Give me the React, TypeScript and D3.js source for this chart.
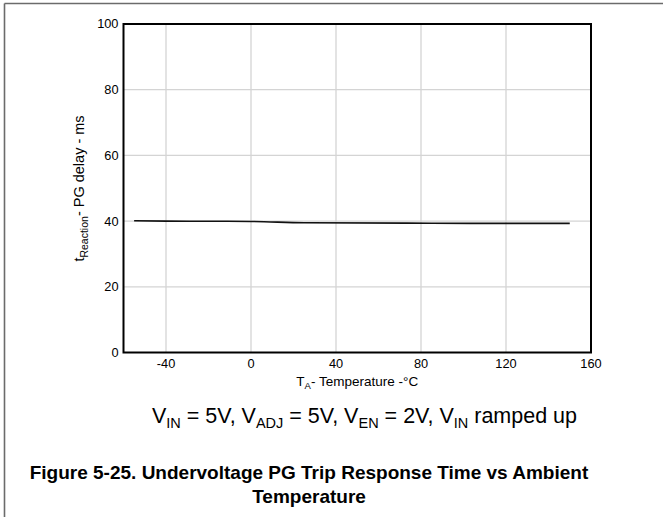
import React from "react";
import * as d3 from "d3";

// Reaction delay vs ambient temperature
const temperature = [-55, -40, 0, 25, 85, 125, 150];
const delayMs = [40.1, 40.0, 39.9, 39.5, 39.35, 39.3, 39.3];

const xTicks = [-40, 0, 40, 80, 120, 160];
const yTicks = [0, 20, 40, 60, 80, 100];

const W = 663;
const H = 517;
const plot = { left: 123.5, right: 591, top: 24, bottom: 352.5 };
const FONT = "'Liberation Sans', Arial, Helvetica, sans-serif";

export default function App() {
  const x = d3.scaleLinear().domain([-60, 160]).range([plot.left, plot.right]);
  const y = d3.scaleLinear().domain([0, 100]).range([plot.bottom, plot.top]);
  const line = d3
    .line<number>()
    .x((_, i) => x(temperature[i]))
    .y((d) => y(d))
    .curve(d3.curveMonotoneX);

  return (
    <svg
      width={W}
      height={H}
      style={{ position: "absolute", left: 0, top: 0, background: "#fff" }}
      fontFamily={FONT}
    >
      {/* page frame */}
      <line x1={4.5} x2={W} y1={3.5} y2={3.5} stroke="#6b6b6b" strokeWidth={1.6} />
      <line x1={4.5} x2={4.5} y1={3.5} y2={H} stroke="#6b6b6b" strokeWidth={1.6} />

      {/* grid */}
      {xTicks.slice(0, -1).map((t) => (
        <line key={"gx" + t} x1={x(t)} x2={x(t)} y1={plot.top} y2={plot.bottom} stroke="#d4d4d4" strokeWidth={1.3} />
      ))}
      {yTicks.slice(1, -1).map((t) => (
        <line key={"gy" + t} x1={plot.left} x2={plot.right} y1={y(t)} y2={y(t)} stroke="#d4d4d4" strokeWidth={1.3} />
      ))}

      {/* data */}
      <path d={line(delayMs) || ""} fill="none" stroke="#111" strokeWidth={1.6} />

      {/* plot frame */}
      <rect
        x={plot.left}
        y={plot.top}
        width={plot.right - plot.left}
        height={plot.bottom - plot.top}
        fill="none"
        stroke="#000"
        strokeWidth={2}
      />

      {/* y tick labels */}
      {yTicks.map((t) => (
        <text key={"yt" + t} x={plot.left - 5} y={y(t)} dy="0.35em" textAnchor="end" fontSize={12.8} fill="#000">
          {t}
        </text>
      ))}
      {/* x tick labels */}
      {xTicks.map((t) => (
        <text key={"xt" + t} x={x(t)} y={368} textAnchor="middle" fontSize={12.8} fill="#000">
          {t}
        </text>
      ))}

      {/* axis titles */}
      <text x={(plot.left + plot.right) / 2} y={386} textAnchor="middle" fontSize={13.5} fill="#000">
        T<tspan fontSize={9.5} dy={3}>A</tspan>
        <tspan dy={-3}>- Temperature -°C</tspan>
      </text>
      <text
        transform={`translate(84, 188.5) rotate(-90)`}
        textAnchor="middle"
        fontSize={14.5}
        fill="#000"
      >
        t<tspan fontSize={10.5} dy={3.5}>Reaction</tspan>
        <tspan dy={-3.5}>- PG delay - ms</tspan>
      </text>

      {/* test conditions */}
      <text x={364.5} y={423} textAnchor="middle" fontSize={21.5} fill="#000">
        V<tspan fontSize={14.5} dy={4.5}>IN</tspan>
        <tspan dy={-4.5}> = 5V, V</tspan>
        <tspan fontSize={14.5} dy={4.5}>ADJ</tspan>
        <tspan dy={-4.5}> = 5V, V</tspan>
        <tspan fontSize={14.5} dy={4.5}>EN</tspan>
        <tspan dy={-4.5}> = 2V, V</tspan>
        <tspan fontSize={14.5} dy={4.5}>IN</tspan>
        <tspan dy={-4.5}> ramped up</tspan>
      </text>

      {/* caption */}
      <text x={309} y={479} textAnchor="middle" fontSize={19} fontWeight="bold" fill="#000">
        Figure 5-25. Undervoltage PG Trip Response Time vs Ambient
      </text>
      <text x={309} y={503} textAnchor="middle" fontSize={19} fontWeight="bold" fill="#000">
        Temperature
      </text>
    </svg>
  );
}
